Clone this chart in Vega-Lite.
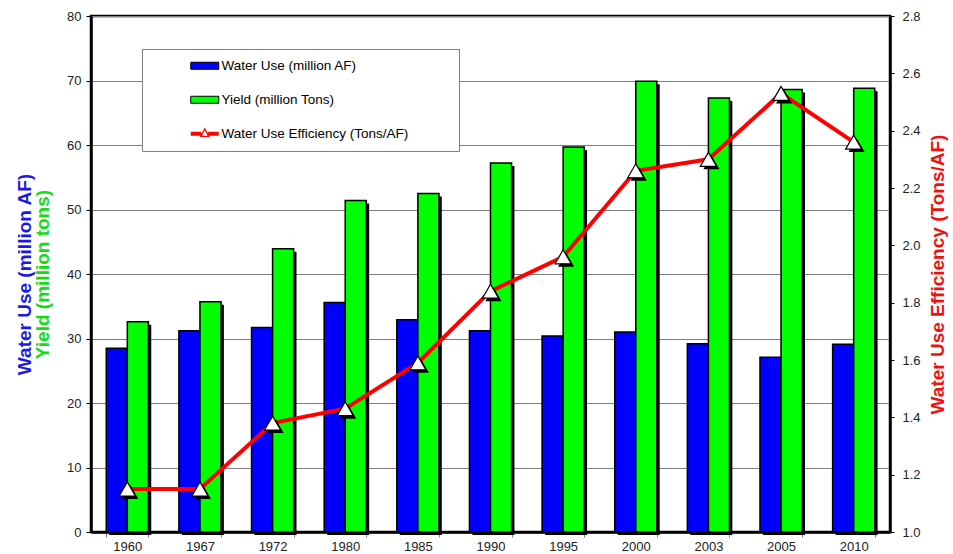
{
  "$schema": "https://vega.github.io/schema/vega-lite/v6.json",
  "width": 799,
  "height": 516,
  "autosize": {"type": "none"},
  "padding": {"left": 91, "top": 16, "right": 63, "bottom": 22},
  "background": "white",
  "config": {
    "font": "Liberation Sans",
    "view": {"stroke": "black", "strokeWidth": 2.5},
    "axis": {"labelFont": "Liberation Sans", "titleFont": "Liberation Sans", "labelFontSize": 13, "labelColor": "#222222"},
    "legend": {"labelFont": "Liberation Sans", "titleFont": "Liberation Sans"}
  },
  "data": {
    "values": [
      {"year": "1960", "water": 28.5, "yield": 32.6, "eff": 1.15},
      {"year": "1967", "water": 31.2, "yield": 35.7, "eff": 1.15},
      {"year": "1972", "water": 31.7, "yield": 43.9, "eff": 1.38},
      {"year": "1980", "water": 35.6, "yield": 51.4, "eff": 1.43},
      {"year": "1985", "water": 32.9, "yield": 52.5, "eff": 1.59},
      {"year": "1990", "water": 31.2, "yield": 57.2, "eff": 1.84},
      {"year": "1995", "water": 30.4, "yield": 59.7, "eff": 1.96},
      {"year": "2000", "water": 31.0, "yield": 69.9, "eff": 2.26},
      {"year": "2003", "water": 29.2, "yield": 67.3, "eff": 2.30},
      {"year": "2005", "water": 27.1, "yield": 68.6, "eff": 2.53},
      {"year": "2010", "water": 29.1, "yield": 68.8, "eff": 2.36}
    ]
  },
  "layer": [
    {
      "transform": [{"fold": ["water", "yield"], "as": ["key", "value"]}],
      "encoding": {
        "x": {
          "field": "year", "type": "nominal", "sort": null,
          "scale": {"paddingInner": 0.42, "paddingOuter": 0.21},
          "axis": {"title": null, "labelAngle": 0, "tickBand": "extent", "tickColor": "#808080", "tickSize": 5, "domainColor": "black", "domainWidth": 2.5, "labelPadding": 3, "labelFontSize": 13}
        },
        "y": {
          "field": "value", "type": "quantitative",
          "scale": {"domain": [0, 80], "nice": false},
          "axis": {"orient": "left", "values": [0, 10, 20, 30, 40, 50, 60, 70, 80], "grid": true, "gridColor": "#7f7f7f", "gridWidth": 1, "tickColor": "black", "tickSize": 5, "domainColor": "black", "domainWidth": 2.5, "labelPadding": 5, "title": "Yield (million tons)", "titleColor": "#11dd11", "titleFontSize": 19, "titleFontWeight": "bold", "titlePadding": 14}
        }
      },
      "layer": [
        {
          "mark": {"type": "bar", "color": "black", "yOffset": 3, "y2Offset": -3},
          "encoding": {
            "xOffset": {"field": "key", "type": "nominal", "sort": ["water", "yield"], "scale": {"range": [3, 45]}}
          }
        },
        {
          "mark": {"type": "bar", "stroke": "black", "strokeWidth": 1.5},
          "encoding": {
            "xOffset": {"field": "key", "type": "nominal", "sort": ["water", "yield"]},
            "color": {
              "field": "key", "type": "nominal",
              "scale": {"domain": ["water", "yield", "eff"], "range": ["#0000ff", "#00ff00", "#ff0000"]},
              "legend": {
                "orient": "none", "legendX": 51, "legendY": 33,
                "title": "\u2800\u2800\u2800\u2800",
                "titleOrient": "left", "titleFontSize": 13, "titlePadding": 6, "titleColor": "white",
                "padding": 10, "strokeColor": "#808080", "fillColor": "white",
                "symbolType": "M-1,-0.25H1V0.25H-1Z", "symbolStrokeColor": "black", "symbolStrokeWidth": 1,
                "symbolSize": 784, "labelFontSize": 13.5, "labelColor": "black", "labelOffset": 10, "rowPadding": 19, "labelLimit": 400,
                "labelExpr": "(datum.value == 'water' ? 'Water Use (million AF)' : datum.value == 'yield' ? 'Yield (million Tons)' : 'Water Use Efficiency (Tons/AF)') + '\u2800\u2800\u2800\u2800'",
                "encode": {
                  "symbols": {
                    "update": {
                      "shape": {"signal": "datum.value == 'eff' ? 'M-1,-0.14H-0.24V0.14H-1ZM0.24,-0.14H1V0.14H0.24ZM0,-0.44L0.36,0.24L-0.36,0.24ZM0,-0.25L-0.2,0.14L0.2,0.14Z' : 'M-1,-0.25H1V0.25H-1Z'"},
                      "stroke": {"signal": "datum.value == 'eff' ? '#ff0000' : 'black'"},
                      "strokeWidth": {"signal": "datum.value == 'eff' ? 0 : 1"},
                      "opacity": {"value": 1}
                    }
                  }
                }
              }
            }
          }
        }
      ],
      "resolve": {"scale": {"xOffset": "independent"}}
    },
    {
      "encoding": {
        "x": {
          "field": "year", "type": "nominal", "sort": null,
          "scale": {"paddingInner": 0.42, "paddingOuter": 0.21},
          "axis": {"title": null, "labelAngle": 0, "tickBand": "extent", "tickColor": "#808080", "tickSize": 5, "domainColor": "black", "domainWidth": 2.5, "labelPadding": 3, "labelFontSize": 13}
        },
        "y": {
          "field": "eff", "type": "quantitative",
          "scale": {"domain": [1.0, 2.8], "nice": false, "zero": false},
          "axis": {"orient": "right", "values": [1.0, 1.2, 1.4, 1.6, 1.8, 2.0, 2.2, 2.4, 2.6, 2.8], "format": ".1f", "grid": false, "tickColor": "black", "tickSize": 4, "domainColor": "black", "domainWidth": 2.5, "labelPadding": 8, "title": "Water Use Efficiency (Tons/AF)", "titleColor": "#ee1111", "titleFontSize": 19, "titleFontWeight": "bold", "titleAngle": 270, "titleBaseline": "top", "titlePadding": 8}
        }
      },
      "layer": [
        {"mark": {"type": "line", "strokeWidth": 4, "color": "#ff0000"}},
        {"mark": {"type": "point", "shape": "triangle-up", "filled": true, "fill": "black", "opacity": 1, "size": 260, "xOffset": 3, "yOffset": 3}},
        {"mark": {"type": "point", "shape": "triangle-up", "filled": true, "fill": "white", "stroke": "black", "strokeWidth": 1.2, "opacity": 1, "size": 260}}
      ]
    },
    {
      "mark": {"type": "rule", "opacity": 0},
      "encoding": {
        "y": {
          "field": "water", "type": "quantitative",
          "axis": {"orient": "left", "labels": false, "ticks": false, "domain": false, "grid": false, "offset": 49, "title": "Water Use (million AF)", "titleColor": "#1a1ae6", "titleFontSize": 19, "titleFontWeight": "bold", "titlePadding": 8}
        }
      }
    }
  ],
  "resolve": {"scale": {"y": "independent"}}
}
